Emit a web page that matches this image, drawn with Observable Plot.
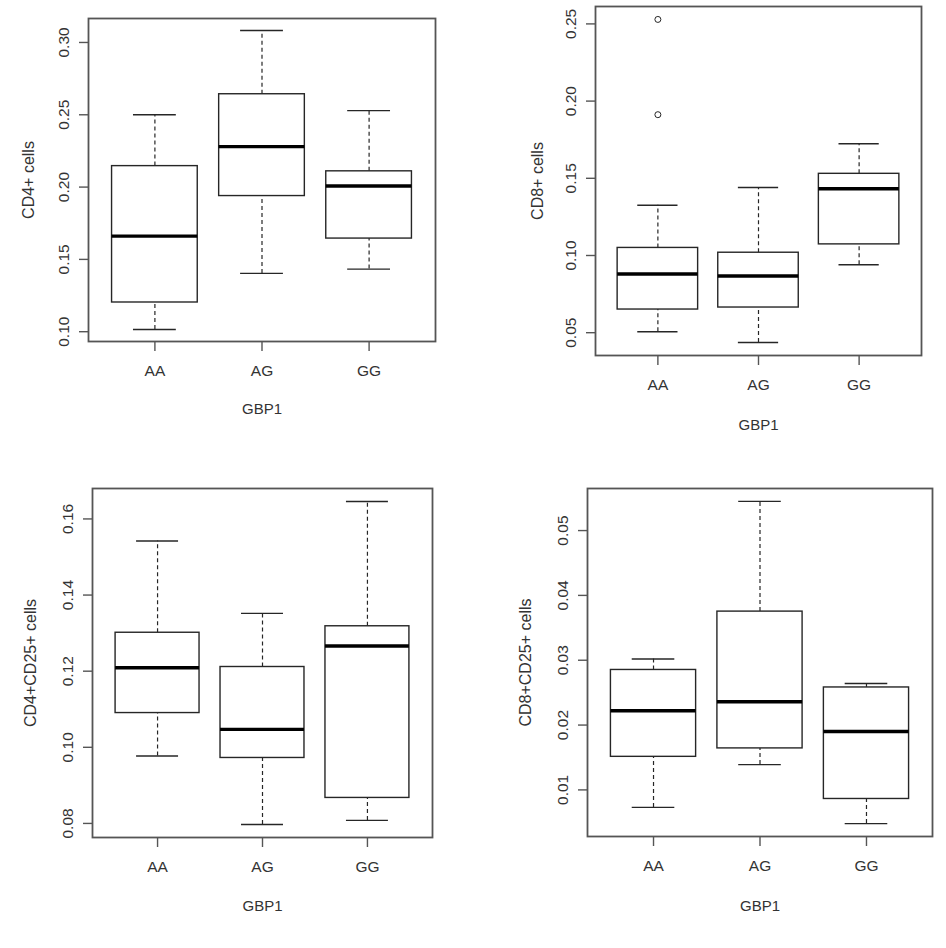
<!DOCTYPE html>
<html><head><meta charset="utf-8">
<script src="https://cdn.jsdelivr.net/npm/d3@7"></script>
<script src="https://cdn.jsdelivr.net/npm/@observablehq/plot@0.6"></script>
<style>
body{margin:0;background:#fff;}
#wrap{position:relative;width:946px;height:948px;overflow:hidden;}
#wrap > div{position:absolute;}
</style></head><body><div id="wrap"></div>
<script>
const genotypes = ["AA", "AG", "GG"];
const xLabel = "GBP1";

// Box statistics per genotype (AA, AG, GG): [lower whisker, Q1, median, Q3, upper whisker]
const cd4Stats = [[0.1015, 0.1202, 0.1661, 0.2145, 0.2500], [0.1403, 0.1938, 0.2280, 0.2642, 0.3083], [0.1433, 0.1644, 0.2007, 0.2109, 0.2529]];
const cd4Outliers = [];
const cd4Ticks = [0.10, 0.15, 0.20, 0.25, 0.30];

const cd8Stats = [[0.0506, 0.0650, 0.0880, 0.1049, 0.1325], [0.0436, 0.0663, 0.0867, 0.1018, 0.1440], [0.0940, 0.1072, 0.1432, 0.1529, 0.1724]];
const cd8Outliers = [["AA", 0.2529], ["AA", 0.1912]];
const cd8Ticks = [0.05, 0.10, 0.15, 0.20, 0.25];

const cd4cd25Stats = [[0.0977, 0.1090, 0.1209, 0.1301, 0.1542], [0.0797, 0.0972, 0.1047, 0.1211, 0.1352], [0.0808, 0.0867, 0.1266, 0.1318, 0.1646]];
const cd4cd25Outliers = [];
const cd4cd25Ticks = [0.08, 0.10, 0.12, 0.14, 0.16];

const cd8cd25Stats = [[0.0073, 0.0151, 0.0222, 0.0285, 0.0302], [0.0139, 0.0164, 0.0236, 0.0375, 0.0545], [0.0048, 0.0086, 0.0190, 0.0258, 0.0264]];
const cd8cd25Outliers = [];
const cd8cd25Ticks = [0.01, 0.02, 0.03, 0.04, 0.05];

const panels = [
  {label: "CD4+ cells", stats: cd4Stats, outliers: cd4Outliers, ticks: cd4Ticks},
  {label: "CD8+ cells", stats: cd8Stats, outliers: cd8Outliers, ticks: cd8Ticks},
  {label: "CD4+CD25+ cells", stats: cd4cd25Stats, outliers: cd4cd25Outliers, ticks: cd4cd25Ticks},
  {label: "CD8+CD25+ cells", stats: cd8cd25Stats, outliers: cd8cd25Outliers, ticks: cd8cd25Ticks}
];

// layout
const layouts = [
  {left: 0,   top: 0,   w: 473, h: 470, ml: 88,  mr: 38, mt: 18, mb: 129, ylab: -60, xlab: 68},
  {left: 473, top: 0,   w: 473, h: 470, ml: 122, mr: 25, mt: 6,  mb: 115, ylab: -58, xlab: 70},
  {left: 0,   top: 470, w: 473, h: 478, ml: 92,  mr: 41, mt: 18, mb: 111, ylab: -62, xlab: 69},
  {left: 473, top: 470, w: 473, h: 478, ml: 114, mr: 14, mt: 18, mb: 112, ylab: -62, xlab: 70}
];

const ink = "#262626";
const font = "'Liberation Sans', Arial, Helvetica, sans-serif";

function makePanel(p, L) {
  const rows = genotypes.map((g, i) => ({
    g, x: i + 1,
    lo: p.stats[i][0], q1: p.stats[i][1], med: p.stats[i][2], q3: p.stats[i][3], hi: p.stats[i][4]
  }));
  const out = p.outliers.map(([g, v]) => ({x: genotypes.indexOf(g) + 1, v}));
  const all = rows.flatMap(r => [r.lo, r.hi]).concat(out.map(o => o.v));
  const lo = d3.min(all), hi = d3.max(all), pad = (hi - lo) * 0.04;
  return Plot.plot({
    width: L.w, height: L.h,
    marginLeft: L.ml, marginRight: L.mr, marginTop: L.mt, marginBottom: L.mb,
    style: {fontFamily: font, fontSize: "15px", color: "#333", background: "white", overflow: "visible"},
    x: {type: "linear", domain: [0.38, 3.62]},
    y: {domain: [lo - pad, hi + pad]},
    marks: [
      Plot.ruleX(rows, {x: "x", y1: "q3", y2: "hi", stroke: ink, strokeWidth: 1.2, strokeDasharray: "4,3"}),
      Plot.ruleX(rows, {x: "x", y1: "lo", y2: "q1", stroke: ink, strokeWidth: 1.2, strokeDasharray: "4,3"}),
      Plot.ruleY(rows, {y: "hi", x1: d => d.x - 0.2, x2: d => d.x + 0.2, stroke: ink, strokeWidth: 1.4}),
      Plot.ruleY(rows, {y: "lo", x1: d => d.x - 0.2, x2: d => d.x + 0.2, stroke: ink, strokeWidth: 1.4}),
      Plot.rect(rows, {x1: d => d.x - 0.4, x2: d => d.x + 0.4, y1: "q1", y2: "q3", fill: "white", stroke: ink, strokeWidth: 1.4}),
      Plot.ruleY(rows, {y: "med", x1: d => d.x - 0.4, x2: d => d.x + 0.4, stroke: "#000", strokeWidth: 3.4}),
      Plot.dot(out, {x: "x", y: "v", r: 3, stroke: ink, strokeWidth: 1}),
      Plot.frame({stroke: "#555", strokeWidth: 1.8}),
      Plot.axisY({ticks: p.ticks, tickFormat: d3.format(".2f"), tickRotate: -90, tickSize: 9, tickPadding: 11,
                  label: null, stroke: "#555", strokeWidth: 1.4, fill: "#333", fontSize: 15.5}),
      Plot.axisX({ticks: [1, 2, 3], tickFormat: i => genotypes[i - 1], tickSize: 10, tickPadding: 13,
                  label: null, stroke: "#555", strokeWidth: 1.4, fill: "#333", fontSize: 15.5}),
      Plot.text([p.label], {text: d => d, frameAnchor: "left", rotate: -90, dx: L.ylab,
                            textAnchor: "middle", lineAnchor: "middle", fontSize: 16, fill: "#333"}),
      Plot.text([xLabel], {text: d => d, frameAnchor: "bottom", dy: L.xlab,
                           textAnchor: "middle", lineAnchor: "middle", fontSize: 15, fill: "#333"})
    ]
  });
}

const wrap = document.getElementById("wrap");
panels.forEach((p, i) => {
  const L = layouts[i];
  const div = document.createElement("div");
  div.style.left = L.left + "px";
  div.style.top = L.top + "px";
  div.appendChild(makePanel(p, L));
  wrap.appendChild(div);
});
</script>
</body></html>
